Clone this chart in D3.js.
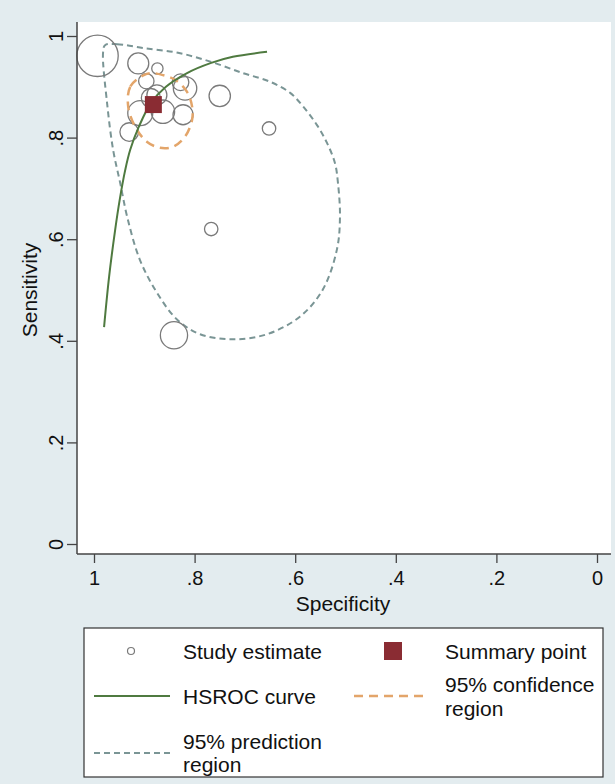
<!DOCTYPE html>
<html>
<head>
<meta charset="utf-8">
<script src="https://cdn.jsdelivr.net/npm/d3@7"></script>
<style>
  body { margin: 0; background: #e3ecef; }
  svg text { font-family: "Liberation Sans", Arial, sans-serif; fill: #111; }
</style>
</head>
<body>
<svg></svg>
<script>
// study estimates (specificity, sensitivity, weight)
let studySpec = [0.993, 0.912, 0.874, 0.896, 0.828, 0.819, 0.875, 0.887, 0.908, 0.863, 0.823, 0.930, 0.750, 0.652, 0.767, 0.841]
let studySens = [0.961, 0.946, 0.936, 0.911, 0.909, 0.897, 0.884, 0.878, 0.848, 0.851, 0.845, 0.811, 0.882, 0.818, 0.620, 0.411]
let studyWeight = [428, 110, 32, 59, 69, 137, 100, 90, 156, 137, 100, 86, 114, 45, 45, 185]

// summary point
let summarySpec = 0.882
let summarySens = 0.865

// HSROC curve
let hsrocSpec = [0.980, 0.970, 0.958, 0.949, 0.938, 0.928, 0.911, 0.887, 0.857, 0.815, 0.767, 0.724, 0.656]
let hsrocSens = [0.427, 0.526, 0.618, 0.677, 0.736, 0.776, 0.821, 0.868, 0.900, 0.927, 0.947, 0.959, 0.969]

// 95% confidence region
let confSpec = [0.901, 0.928, 0.932, 0.918, 0.895, 0.869, 0.843, 0.819, 0.805, 0.805, 0.815, 0.839, 0.863, 0.885]
let confSens = [0.923, 0.900, 0.861, 0.821, 0.792, 0.780, 0.782, 0.802, 0.835, 0.861, 0.890, 0.914, 0.923, 0.927]

// 95% prediction region
let predSpec = [0.978, 0.954, 0.901, 0.833, 0.767, 0.704, 0.650, 0.610, 0.584, 0.557, 0.537, 0.521, 0.515, 0.511,
                0.517, 0.545, 0.590, 0.656, 0.724, 0.789, 0.835, 0.875, 0.909, 0.934, 0.948, 0.962, 0.974, 0.982]
let predSens = [0.982, 0.984, 0.976, 0.967, 0.949, 0.927, 0.910, 0.888, 0.861, 0.825, 0.790, 0.750, 0.711, 0.644,
                0.580, 0.501, 0.448, 0.413, 0.403, 0.413, 0.442, 0.495, 0.560, 0.644, 0.711, 0.776, 0.868, 0.967]

let tickValues = [0, 0.2, 0.4, 0.6, 0.8, 1]
let tickLabels = ['0', '.2', '.4', '.6', '.8', '1']

let width = 615
let height = 784

let plotLeft = 77, plotRight = 611, plotTop = 22, plotBottom = 554

let svg = d3.select('svg').attr('width', width).attr('height', height)

svg.append('rect').attr('width', width).attr('height', height).attr('fill', '#e3ecef')
svg.append('rect')
    .attr('x', plotLeft).attr('y', plotTop)
    .attr('width', plotRight - plotLeft).attr('height', plotBottom - plotTop)
    .attr('fill', '#ffffff')

let xScale = d3.scaleLinear().domain([1, 0]).range([94, 597])
let yScale = d3.scaleLinear().domain([0, 1]).range([544, 36])
let rScale = d3.scaleSqrt().domain([0, d3.max(studyWeight)]).range([0, 20.7])

let lineOpen = d3.line().x(d => xScale(d[0])).y(d => yScale(d[1])).curve(d3.curveCatmullRom)
let lineClosed = d3.line().x(d => xScale(d[0])).y(d => yScale(d[1])).curve(d3.curveCatmullRomClosed)

// prediction region
svg.append('path')
    .datum(d3.zip(predSpec, predSens))
    .attr('d', lineClosed)
    .attr('fill', 'none')
    .attr('stroke', '#7a9595')
    .attr('stroke-width', 2)
    .attr('stroke-dasharray', '6,4')

// study circles
svg.selectAll('circle.study')
    .data(d3.zip(studySpec, studySens, studyWeight))
    .enter()
    .append('circle')
    .attr('class', 'study')
    .attr('cx', d => xScale(d[0]))
    .attr('cy', d => yScale(d[1]))
    .attr('r', d => rScale(d[2]))
    .attr('fill', 'none')
    .attr('stroke', '#7a7a7a')
    .attr('stroke-width', 1.3)

// confidence region
svg.append('path')
    .datum(d3.zip(confSpec, confSens))
    .attr('d', lineClosed)
    .attr('fill', 'none')
    .attr('stroke', '#e3a56a')
    .attr('stroke-width', 2.5)
    .attr('stroke-dasharray', '9,6')

// HSROC curve
svg.append('path')
    .datum(d3.zip(hsrocSpec, hsrocSens))
    .attr('d', lineOpen)
    .attr('fill', 'none')
    .attr('stroke', '#4f7a40')
    .attr('stroke-width', 2)

// summary point
let sq = 17
svg.append('rect')
    .attr('x', xScale(summarySpec) - sq / 2)
    .attr('y', yScale(summarySens) - sq / 2)
    .attr('width', sq).attr('height', sq)
    .attr('fill', '#8a2c33')

// axes
let xAxis = d3.axisBottom(xScale).tickValues(tickValues).tickFormat((d, i) => tickLabels[i]).tickSize(9).tickPadding(8)
let yAxis = d3.axisLeft(yScale).tickValues(tickValues).tickFormat((d, i) => tickLabels[i]).tickSize(10)

let gx = svg.append('g')
    .attr('transform', 'translate(0,' + plotBottom + ')')
    .call(xAxis)
gx.select('.domain').remove()
gx.append('line').attr('x1', plotLeft).attr('x2', plotRight).attr('stroke', '#444').attr('stroke-width', 1.5)
gx.selectAll('.tick line').attr('stroke', '#444').attr('stroke-width', 1.3)
gx.selectAll('.tick text').attr('font-size', 20).attr('fill', '#111').attr('font-family', '"Liberation Sans", Arial, sans-serif')

let gy = svg.append('g')
    .attr('transform', 'translate(' + plotLeft + ',0)')
    .call(yAxis)
gy.select('.domain').remove()
gy.append('line').attr('y1', plotTop).attr('y2', plotBottom).attr('stroke', '#444').attr('stroke-width', 1.5)
gy.selectAll('.tick line').attr('stroke', '#444').attr('stroke-width', 1.3)
gy.selectAll('.tick text')
    .attr('font-size', 20).attr('fill', '#111').attr('font-family', '"Liberation Sans", Arial, sans-serif')
    .attr('x', null).attr('dy', null)
    .attr('text-anchor', 'middle')
    .attr('transform', 'translate(-14,0) rotate(-90)')

svg.append('text')
    .attr('text-anchor', 'middle')
    .attr('font-size', 21)
    .attr('transform', 'translate(37,' + (yScale(0.5)) + ') rotate(-90)')
    .text('Sensitivity')

svg.append('text')
    .attr('text-anchor', 'middle')
    .attr('font-size', 21)
    .attr('x', (plotLeft + plotRight) / 2 - 1)
    .attr('y', 611)
    .text('Specificity')

// legend
let legend = svg.append('g')
legend.append('rect')
    .attr('x', 84).attr('y', 628).attr('width', 519).attr('height', 149)
    .attr('fill', '#ffffff').attr('stroke', '#333').attr('stroke-width', 1.2)

legend.append('circle').attr('cx', 131).attr('cy', 651).attr('r', 3.5)
    .attr('fill', 'none').attr('stroke', '#7a7a7a').attr('stroke-width', 1.2)
legend.append('rect').attr('x', 384).attr('y', 642).attr('width', 18).attr('height', 18).attr('fill', '#8a2c33')
legend.append('line').attr('x1', 94).attr('x2', 170).attr('y1', 696).attr('y2', 696)
    .attr('stroke', '#4f7a40').attr('stroke-width', 2)
legend.append('line').attr('x1', 354).attr('x2', 426).attr('y1', 696).attr('y2', 696)
    .attr('stroke', '#e3a56a').attr('stroke-width', 2.5).attr('stroke-dasharray', '9,6')
legend.append('line').attr('x1', 94).attr('x2', 170).attr('y1', 753).attr('y2', 753)
    .attr('stroke', '#7a9595').attr('stroke-width', 2).attr('stroke-dasharray', '6,4')

let legendTexts = [
    ['Study estimate', 183, 659],
    ['Summary point', 445, 659],
    ['HSROC curve', 183, 704],
    ['95% confidence', 445, 692],
    ['region', 445, 716],
    ['95% prediction', 183, 749],
    ['region', 183, 772]
]
legend.selectAll('text.lg')
    .data(legendTexts)
    .enter()
    .append('text')
    .attr('class', 'lg')
    .attr('font-size', 21)
    .attr('x', d => d[1])
    .attr('y', d => d[2])
    .text(d => d[0])
</script>
</body>
</html>
